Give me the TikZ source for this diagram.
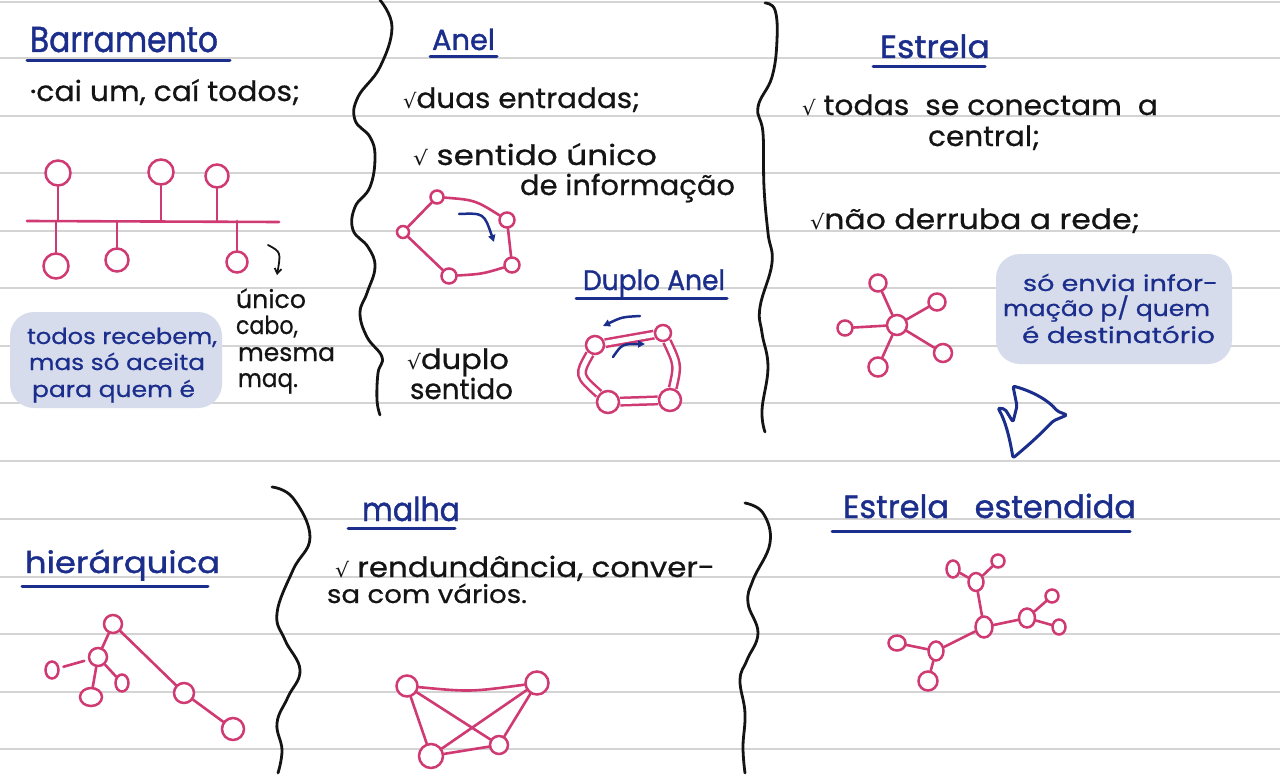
\documentclass[tikz,border=0pt]{standalone}
\usepackage{fontspec}
\setmainfont{Poppins}[FakeBold=0.6]
\newfontfamily\ttlfont{Poppins}[FakeBold=1.2]
\newfontfamily\symf{DejaVu Sans}
\usetikzlibrary{shapes.geometric,arrows.meta}
\definecolor{navy}{HTML}{1B2E8C}
\definecolor{pinkc}{HTML}{D03A72}
\definecolor{hl}{HTML}{D6DCEC}
\definecolor{ink}{HTML}{141414}
\definecolor{rulec}{HTML}{D4D4D4}
\newsavebox\hwbox
\newlength\hwl
\newcommand\fitto[2]{\sbox\hwbox{#2}\setlength\hwl{\wd\hwbox}\pgfmathsetmacro\hwr{#1/\hwl}\scalebox{\hwr}[1]{\usebox\hwbox}}
\newcommand\chk{{\symf\fontsize{20}{20}\selectfont √}}
\tikzset{
  hw/.style={anchor=base west, inner sep=0pt, outer sep=0pt, text=ink, font=\fontsize{28}{30}\selectfont},
  hwsmall/.style={hw, font=\fontsize{25}{27}\selectfont},
  note/.style={hw, text=navy, font=\fontsize{22}{24}\selectfont},
  ttl/.style={hw, text=navy, font=\ttlfont\fontsize{32}{34}\selectfont},
  uline/.style={draw=navy, line width=3pt, line cap=round},
  pc/.style={circle, draw=pinkc, line width=2.5pt, fill=white, inner sep=0pt},
  pe/.style={ellipse, draw=pinkc, line width=2.5pt, fill=white, inner sep=0pt},
  pl/.style={draw=pinkc, line width=2.6pt, line cap=round},
  dbl/.style={draw=pinkc, line width=2.5pt, double=white, double distance=5pt},
  brace/.style={draw=ink, line width=2.8pt, line cap=round},
  narrow/.style={draw=navy, line width=2.5pt, line cap=round, -{Triangle[length=7pt,width=7pt]}},
  hlbox/.style={fill=hl, rounded corners=24pt, inner sep=0pt},
  rl/.style={draw=rulec, line width=1.6pt}
}
\begin{document}
\begin{tikzpicture}[x=1pt,y=-1pt]
\useasboundingbox[fill=white] (0,0) rectangle (1280,776);
% ruled lines
\foreach \yy in {2,58,116,173,231,288,346,403,461,519,577,634,692,749}
  \draw[rl] (0,\yy) -- (1280,\yy);

% highlight boxes
\node[hlbox, minimum width=212pt, minimum height=96pt] (hb1) at (116,360) {};
\node[hlbox, minimum width=236pt, minimum height=110pt] (hb2) at (1114,309) {};

% braces
\draw[brace] plot[smooth, tension=0.7] coordinates {(380,0) (392,27) (380,67) (358,97) (355,120) (370,137) (375,157) (370,187) (355,207) (353,230) (368,247) (375,267) (367,293) (360,313) (367,337) (382,357) (378,373) (377,400) (380,415)};
\draw[brace] plot[smooth, tension=0.7] coordinates {(765,3) (775,10) (777,40) (772,77) (758,107) (763,133) (764,187) (768,233) (772,263) (760,307) (762,333) (768,367) (762,410) (765,432)};
\draw[brace] plot[smooth, tension=0.7] coordinates {(272,487) (293,498) (310,537) (293,570) (277,613) (285,640) (300,670) (288,697) (277,723) (282,750) (278,773)};
\draw[brace] plot[smooth, tension=0.7] coordinates {(745,503) (763,513) (770,543) (753,580) (748,603) (758,633) (747,660) (740,680) (745,713) (743,747) (745,773)};

% ---------------- Barramento
\node[ttl, font=\ttlfont\fontsize{36}{38}\selectfont] (t1) at (30,52) {\fitto{188}{Barramento}};
\draw[uline] (27,61) -- (230,61);
\node[hw] (t1a) at (30,101) {\fitto{270}{·cai um, caí todos;}};
\coordinate (busL) at (27,221);
\coordinate (busR) at (279,222);
\draw[pl] (busL) -- (busR);
\node[pc, minimum size=25pt] (bt1) at (58,173) {};
\node[pc, minimum size=25pt] (bt2) at (161,172) {};
\node[pc, minimum size=23pt] (bt3) at (217,176) {};
\node[pc, minimum size=25pt] (bb1) at (56,266) {};
\node[pc, minimum size=23pt] (bb2) at (117,260) {};
\node[pc, minimum size=21pt] (bb3) at (237,262) {};
\draw[pl] (bt1) -- (bt1 |- busL);
\draw[pl] (bt2) -- (bt2 |- busL);
\draw[pl] (bt3) -- (bt3 |- busL);
\draw[pl] (bb1) -- (bb1 |- busL);
\draw[pl] (bb2) -- (bb2 |- busL);
\draw[pl] (bb3) -- (bb3 |- busL);
\coordinate (ar1) at (268,245);
\coordinate (ar2) at (277,275);
\draw[draw=ink, line width=1.8pt, line cap=round, -{Straight Barb[length=5pt,width=7pt]}] (ar1) .. controls (281,252) .. (ar2);
\node[hwsmall] (u1) at (236,308) {\fitto{70}{único}};
\node[hwsmall] (u2) at (236,334) {\fitto{62}{cabo,}};
\node[hwsmall] (u3) at (238,361) {\fitto{97}{mesma}};
\node[hwsmall] (u4) at (238,387) {\fitto{60}{maq.}};
\node[note] (n1) at (27,344) {\fitto{190}{todos recebem,}};
\node[note] (n2) at (29,370) {\fitto{176}{mas só aceita}};
\node[note] (n3) at (32,397) {\fitto{163}{para quem é}};

% ---------------- Anel
\node[ttl, font=\ttlfont\fontsize{29}{31}\selectfont] (t2) at (432,50) {\fitto{63}{Anel}};
\draw[uline] (430,57) -- (497,57);
\node[hw] (t2a) at (403,108) {\fitto{237}{\chk duas entradas;}};
\node[hw] (t2b) at (413,165) {\fitto{244}{\chk\ sentido único}};
\node[hw] (t2c) at (520,195) {\fitto{215}{de informação}};
\node[pc, minimum size=13pt] (a1) at (437,197) {};
\node[pc, minimum size=12pt] (a2) at (403,232) {};
\node[pc, minimum size=15pt] (a3) at (507,220) {};
\node[pc, minimum size=15pt] (a4) at (512,265) {};
\node[pc, minimum size=15pt] (a5) at (449,276) {};
\draw[pl] (a1) .. controls (475,200) .. (a3);
\draw[pl] (a3) -- (a4);
\draw[pl] (a4) .. controls (482,274) .. (a5);
\draw[pl] (a5) -- (a2);
\draw[pl] (a2) -- (a1);
\coordinate (aa1) at (459,214);
\coordinate (aa2) at (494,242);
\draw[narrow] (aa1) .. controls (484,213) .. (aa2);
% Duplo Anel
\node[ttl, font=\ttlfont\fontsize{28}{30}\selectfont] (t3) at (583,290) {\fitto{142}{Duplo Anel}};
\draw[uline] (576,298) -- (727,298);
\node[hw] (t3a) at (407,369) {\fitto{102}{\chk duplo}};
\node[hw] (t3b) at (410,399) {\fitto{103}{sentido}};
\node[pc, minimum size=18pt] (d1) at (595,345) {};
\node[pc, minimum size=16pt] (d2) at (663,333) {};
\node[pc, minimum size=22pt] (d3) at (608,402) {};
\node[pc, minimum size=22pt] (d4) at (670,400) {};
\draw[dbl] (d1) -- (d2);
\draw[dbl] (d2) .. controls (678,365) .. (d4);
\draw[dbl] (d4) -- (d3);
\draw[dbl] (d3) .. controls (578,375) .. (d1);
\coordinate (db1) at (640,316);
\coordinate (db2) at (603,326);
\coordinate (db3) at (613,357);
\coordinate (db4) at (645,344);
\draw[narrow] (db1) .. controls (622,317) .. (db2);
\draw[narrow] (db3) .. controls (622,344) .. (db4);

% ---------------- Estrela
\node[ttl] (t4) at (880,58) {\fitto{110}{Estrela}};
\draw[uline] (873,67) -- (985,67);
\node[hw] (t4a) at (802,115) {\fitto{356}{\chk\ todas \ se conectam \ a}};
\node[hw] (t4b) at (928,146) {\fitto{112}{central;}};
\node[hw] (t4c) at (810,229) {\fitto{330}{\chk não derruba a rede;}};
\node[pc, minimum size=20pt] (s0) at (897,325) {};
\node[pc, minimum size=17pt] (s1) at (878,283) {};
\node[pc, minimum size=17pt] (s2) at (937,302) {};
\node[pc, minimum size=15pt] (s3) at (845,328) {};
\node[pc, minimum size=18pt] (s4) at (943,353) {};
\node[pc, minimum size=19pt] (s5) at (878,367) {};
\foreach \n in {s1,s2,s3,s4,s5} \draw[pl] (s0) -- (\n);
\node[note] (n4) at (1023,291) {\fitto{195}{só envia infor-}};
\node[note] (n5) at (1003,316) {\fitto{207}{mação p/ quem}};
\node[note] (n6) at (1022,343) {\fitto{193}{é destinatório}};
\draw[draw=navy, line width=3pt, line join=round, rounded corners=2pt]
  (1013,386) .. controls (1035,392) and (1050,402) .. (1057,411)
  -- (1067,415) -- (1053,421)
  .. controls (1040,435) and (1025,448) .. (1013,458)
  .. controls (1010,440) and (1006,422) .. (998,408)
  -- (1005,409) -- (1013,422) -- (1017,406) -- cycle;

% ---------------- hierarquica
\node[ttl, font=\ttlfont\fontsize{30}{32}\selectfont] (t5) at (25,573) {\fitto{195}{hierárquica}};
\draw[uline] (22,586) -- (208,586);
\node[pc, minimum size=18pt] (h1) at (113,624) {};
\node[pc, minimum size=18pt] (h2) at (98,657) {};
\node[pe, minimum width=13pt, minimum height=17pt] (h3) at (52,670) {};
\node[pe, minimum width=22pt, minimum height=18pt] (h4) at (91,697) {};
\node[pe, minimum width=13pt, minimum height=17pt] (h5) at (122,683) {};
\node[pc, minimum size=20pt] (h6) at (184,693) {};
\node[pc, minimum size=22pt] (h7) at (233,729) {};
\draw[pl] (h1) -- (h2);
\draw[pl, shorten <=4pt, shorten >=4pt] (h3) -- (h2);
\draw[pl] (h2) -- (h4);
\draw[pl] (h2) -- (h5);
\draw[pl] (h1) -- (h6);
\draw[pl] (h6) -- (h7);

% ---------------- Malha
\node[ttl, font=\ttlfont\fontsize{33}{35}\selectfont] (t6) at (362,521) {\fitto{98}{malha}};
\draw[uline] (348,528) -- (455,528);
\node[hw] (t6a) at (335,577) {\fitto{380}{\chk\ rendundância, conver-}};
\node[hwsmall] (t6b) at (327,603) {\fitto{200}{sa com vários.}};
\node[pc, minimum size=21pt] (m1) at (407,686) {};
\node[pc, minimum size=23pt] (m2) at (537,683) {};
\node[pc, minimum size=24pt] (m3) at (431,756) {};
\node[pc, minimum size=18pt] (m4) at (499,745) {};
\draw[pl] (m1) .. controls (470,692) .. (m2);
\draw[pl] (m1) -- (m3);
\draw[pl] (m1) -- (m4);
\draw[pl] (m2) -- (m3);
\draw[pl] (m2) -- (m4);
\draw[pl] (m3) -- (m4);

% ---------------- Estrela estendida
\node[ttl] (t7) at (843,518) {\fitto{293}{Estrela \ \ estendida}};
\draw[uline] (832,531) -- (1130,531);
\node[pe, minimum width=17pt, minimum height=21pt] (e0) at (984,627) {};
\node[pe, minimum width=15pt, minimum height=18pt] (e1) at (976,582) {};
\node[pe, minimum width=13pt, minimum height=17pt] (e2) at (953,569) {};
\node[pc, minimum size=13pt] (e3) at (998,561) {};
\node[pe, minimum width=16pt, minimum height=19pt] (e4) at (1027,618) {};
\node[pc, minimum size=13pt] (e5) at (1052,596) {};
\node[pe, minimum width=13pt, minimum height=15pt] (e6) at (1059,627) {};
\node[pe, minimum width=15pt, minimum height=19pt] (e7) at (936,651) {};
\node[pe, minimum width=17pt, minimum height=15pt] (e8) at (897,643) {};
\node[pc, minimum size=19pt] (e9) at (928,681) {};
\draw[pl] (e0) -- (e1);
\draw[pl] (e1) -- (e2);
\draw[pl] (e1) -- (e3);
\draw[pl] (e0) -- (e4);
\draw[pl] (e4) -- (e5);
\draw[pl] (e4) -- (e6);
\draw[pl] (e0) -- (e7);
\draw[pl] (e7) -- (e8);
\draw[pl] (e7) -- (e9);
\end{tikzpicture}
\end{document}
